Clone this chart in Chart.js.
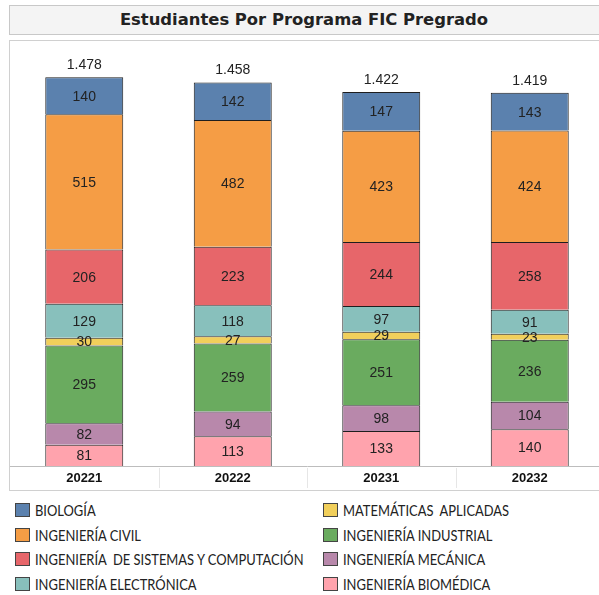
<!DOCTYPE html>
<html>
<head>
<meta charset="utf-8">
<script src="https://cdn.jsdelivr.net/npm/chart.js@4"></script>
<style>
  html, body { margin: 0; padding: 0; background: #fff; overflow: hidden; }
  body { width: 599px; height: 595px; position: relative; }
  #title {
    position: absolute; left: 9px; top: 5px; width: 600px; height: 30px;
    background: #f4f4f4; border: 1px solid #c8c8c8; box-sizing: border-box;
    font: bold 16.4px "DejaVu Sans", sans-serif; color: #222;
    text-align: center; line-height: 28px; padding-right: 10px;
  }
  #panel {
    position: absolute; left: 9px; top: 40px; width: 600px; height: 451px;
    border: 1px solid #d0d0d0; box-sizing: border-box;
  }
  #chartBox { position: absolute; left: 10px; top: 40px; width: 594px; height: 450px; }
  #legend {
    position: absolute; left: 15px; top: 502px; width: 590px;
    font: 16px Lato, sans-serif; color: #222;
  }
  .item { position: absolute; height: 16px; line-height: 16px; white-space: pre; }
  .sw { position: absolute; left: 0; top: 1px; width: 15px; height: 14px; border: 1px solid #444;
        box-sizing: border-box; }
  .txt { position: absolute; left: 20px; top: 0; transform-origin: 0 50%; }
</style>
</head>
<body>
<div id="title">Estudiantes Por Programa FIC Pregrado</div>
<div id="panel"></div>
<div id="chartBox"><canvas id="c"></canvas></div>
<div id="legend"></div>
<script>
// periodos
const periods = ['20221', '20222', '20231', '20232'];

// programas, de abajo hacia arriba en la pila
const programs = [
  'INGENIERÍA BIOMÉDICA',
  'INGENIERÍA MECÁNICA',
  'INGENIERÍA INDUSTRIAL',
  'MATEMÁTICAS  APLICADAS',
  'INGENIERÍA ELECTRÓNICA',
  'INGENIERÍA  DE SISTEMAS Y COMPUTACIÓN',
  'INGENIERÍA CIVIL',
  'BIOLOGÍA'
];
const colors = ['#ffa3ad', '#b888ab', '#6aab5f', '#f1cf5b', '#88c0bc', '#e7666a', '#f59d45', '#5b81ae'];

const biomedica   = [81, 113, 133, 140];
const mecanica    = [82, 94, 98, 104];
const industrial  = [295, 259, 251, 236];
const matematicas = [30, 27, 29, 23];
const electronica = [129, 118, 97, 91];
const sistemas    = [206, 223, 244, 258];
const civil       = [515, 482, 423, 424];
const biologia    = [140, 142, 147, 143];
const totals      = ['1.478', '1.458', '1.422', '1.419'];

const series = [biomedica, mecanica, industrial, matematicas, electronica, sistemas, civil, biologia];

// orden de la leyenda (dos columnas)
const legendLeft  = ['BIOLOGÍA', 'INGENIERÍA CIVIL', 'INGENIERÍA  DE SISTEMAS Y COMPUTACIÓN', 'INGENIERÍA ELECTRÓNICA'];
const legendRight = ['MATEMÁTICAS  APLICADAS', 'INGENIERÍA INDUSTRIAL', 'INGENIERÍA MECÁNICA', 'INGENIERÍA BIOMÉDICA'];

// etiquetas dentro de los segmentos y totales arriba
const labelsPlugin = {
  id: 'segLabels',
  afterDatasetsDraw(chart) {
    const ctx = chart.ctx;
    ctx.save();
    ctx.font = '14px "Liberation Sans", Arial, sans-serif';
    ctx.fillStyle = '#222';
    ctx.textAlign = 'center';
    ctx.textBaseline = 'middle';
    chart.data.datasets.forEach((ds, i) => {
      const meta = chart.getDatasetMeta(i);
      meta.data.forEach((bar, j) => {
        ctx.fillText(ds.data[j], bar.x, (bar.y + bar.base) / 2 + 1);
      });
    });
    const topMeta = chart.getDatasetMeta(chart.data.datasets.length - 1);
    topMeta.data.forEach((bar, j) => {
      ctx.fillText(totals[j], bar.x, bar.y - 12);
    });
    ctx.restore();
  },
  afterDraw(chart) {
    // separadores tenues en la franja del eje x
    const x = chart.scales.x, ctx = chart.ctx;
    ctx.save();
    ctx.strokeStyle = '#e6e6e6';
    ctx.lineWidth = 1;
    for (let k = 1; k < periods.length; k++) {
      const px = Math.round((x.getPixelForValue(k - 1) + x.getPixelForValue(k)) / 2) + 0.5;
      ctx.beginPath();
      ctx.moveTo(px, x.top + 2);
      ctx.lineTo(px, x.bottom - 2);
      ctx.stroke();
    }
    ctx.restore();
  }
};

new Chart(document.getElementById('c'), {
  type: 'bar',
  data: {
    labels: periods,
    datasets: series.map((d, i) => ({
      label: programs[i],
      data: d,
      backgroundColor: colors[i],
      borderColor: '#1e1e1e',
      borderWidth: 1,
      borderSkipped: 'start',
      categoryPercentage: 1,
      barPercentage: 0.525
    }))
  },
  options: {
    responsive: true,
    maintainAspectRatio: false,
    animation: false,
    layout: { padding: 0 },
    plugins: { legend: { display: false }, tooltip: { enabled: false } },
    scales: {
      x: {
        stacked: true,
        grid: { display: false, drawTicks: false },
        border: { display: true, color: '#bdbdbd' },
        ticks: {
          padding: 5,
          color: '#111',
          font: { family: '"Liberation Sans", Arial, sans-serif', size: 13, weight: 'bold' }
        },
        afterFit: s => { s.height = 24; }
      },
      y: {
        stacked: true,
        display: false,
        min: 0,
        max: 1620
      }
    }
  },
  plugins: [labelsPlugin]
});

// leyenda HTML, con la letra algo condensada como en el original
const legend = document.getElementById('legend');
const measure = document.createElement('canvas').getContext('2d');
measure.font = '16px Lato, sans-serif';
const squeeze = Math.min(1, 270 / measure.measureText(legendLeft[2]).width);

const addItem = (name, left, row) => {
  const idx = programs.indexOf(name);
  const el = document.createElement('div');
  el.className = 'item';
  el.style.left = left + 'px';
  el.style.top = (row * 24.7) + 'px';
  el.innerHTML = '<span class="sw" style="background:' + colors[idx] + '"></span>' +
    '<span class="txt" style="transform:scaleX(' + squeeze + ')">' + name + '</span>';
  legend.appendChild(el);
};
legendLeft.forEach((n, r) => addItem(n, 0, r));
legendRight.forEach((n, r) => addItem(n, 308, r));
</script>
</body>
</html>
